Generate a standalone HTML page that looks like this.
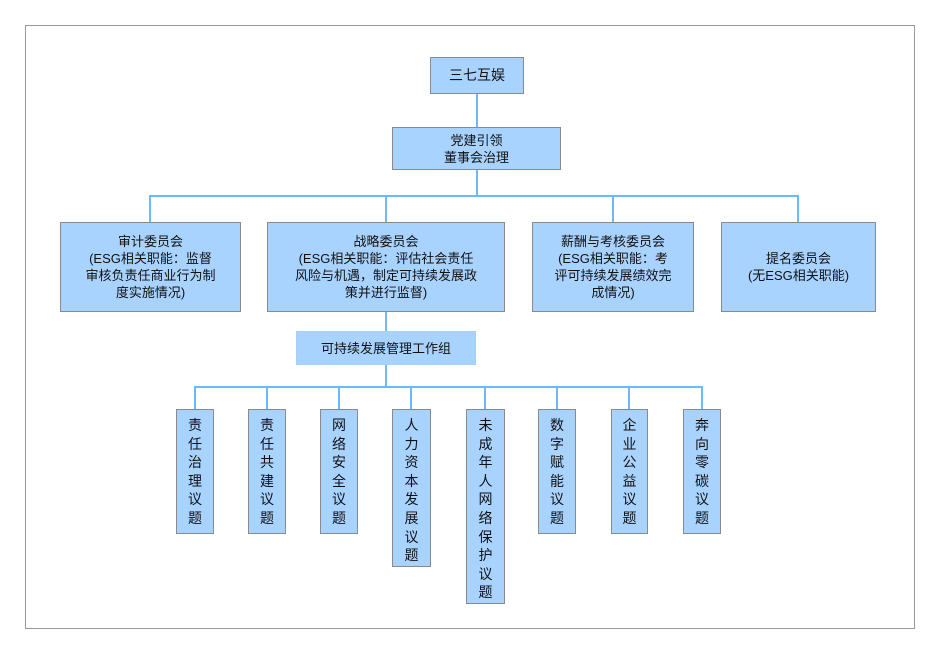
<!DOCTYPE html>
<html><head><meta charset="utf-8"><style>
body{margin:0;width:940px;height:653px;background:#fff;position:relative;font-family:"Liberation Sans","Noto Sans CJK SC",sans-serif;font-size:13px;color:#111;}
.f{position:absolute;left:25px;top:25px;width:888px;height:602px;border:1px solid #999;}
.b{position:absolute;background:#a9d3ff;border:1px solid #8a8a8a;box-sizing:border-box;display:flex;align-items:center;justify-content:center;text-align:center;line-height:17px;}
.l{position:absolute;background:#6db8ff;}
.v{align-items:flex-start;padding-top:6px;line-height:18.6px;font-size:14px;}
</style></head><body>
<div class="f"></div>
<div class="l" style="left:476px;top:93px;width:2px;height:34px"></div>
<div class="l" style="left:476px;top:169px;width:2px;height:28px"></div>
<div class="l" style="left:149px;top:195px;width:650px;height:2px"></div>
<div class="l" style="left:149px;top:195px;width:2px;height:27px"></div>
<div class="l" style="left:385px;top:195px;width:2px;height:27px"></div>
<div class="l" style="left:612px;top:195px;width:2px;height:27px"></div>
<div class="l" style="left:797px;top:195px;width:2px;height:27px"></div>
<div class="l" style="left:385px;top:311px;width:2px;height:20px"></div>
<div class="l" style="left:385px;top:364px;width:2px;height:24px"></div>
<div class="l" style="left:194px;top:386px;width:509px;height:2px"></div>
<div class="l" style="left:194px;top:386px;width:2px;height:23px"></div>
<div class="l" style="left:266px;top:386px;width:2px;height:23px"></div>
<div class="l" style="left:338px;top:386px;width:2px;height:23px"></div>
<div class="l" style="left:410px;top:386px;width:2px;height:23px"></div>
<div class="l" style="left:484px;top:386px;width:2px;height:23px"></div>
<div class="l" style="left:556px;top:386px;width:2px;height:23px"></div>
<div class="l" style="left:628px;top:386px;width:2px;height:23px"></div>
<div class="l" style="left:701px;top:386px;width:2px;height:23px"></div>

<div class="b" style="left:430px;top:57px;width:94px;height:37px;font-size:14px">三七互娱</div>
<div class="b" style="left:392px;top:127px;width:169px;height:43px">党建引领<br>董事会治理</div>
<div class="b" style="left:60px;top:222px;width:181px;height:90px">审计委员会<br>(ESG相关职能：监督<br>审核负责任商业行为制<br>度实施情况)</div>
<div class="b" style="left:267px;top:222px;width:238px;height:90px">战略委员会<br>(ESG相关职能：评估社会责任<br>风险与机遇，制定可持续发展政<br>策并进行监督)</div>
<div class="b" style="left:532px;top:222px;width:162px;height:90px">薪酬与考核委员会<br>(ESG相关职能：考<br>评可持续发展绩效完<br>成情况)</div>
<div class="b" style="left:721px;top:222px;width:155px;height:90px">提名委员会<br>(无ESG相关职能)</div>
<div class="b" style="left:296px;top:331px;width:180px;height:34px;border-color:#9fd0ff">可持续发展管理工作组</div>

<div class="b v" style="left:176px;top:409px;width:38px;height:125px">责<br>任<br>治<br>理<br>议<br>题</div>
<div class="b v" style="left:248px;top:409px;width:38px;height:125px">责<br>任<br>共<br>建<br>议<br>题</div>
<div class="b v" style="left:320px;top:409px;width:38px;height:125px">网<br>络<br>安<br>全<br>议<br>题</div>
<div class="b v" style="left:392px;top:409px;width:39px;height:158px">人<br>力<br>资<br>本<br>发<br>展<br>议<br>题</div>
<div class="b v" style="left:466px;top:409px;width:39px;height:195px">未<br>成<br>年<br>人<br>网<br>络<br>保<br>护<br>议<br>题</div>
<div class="b v" style="left:538px;top:409px;width:38px;height:125px">数<br>字<br>赋<br>能<br>议<br>题</div>
<div class="b v" style="left:611px;top:409px;width:37px;height:125px">企<br>业<br>公<br>益<br>议<br>题</div>
<div class="b v" style="left:683px;top:409px;width:38px;height:125px">奔<br>向<br>零<br>碳<br>议<br>题</div>
</body></html>
